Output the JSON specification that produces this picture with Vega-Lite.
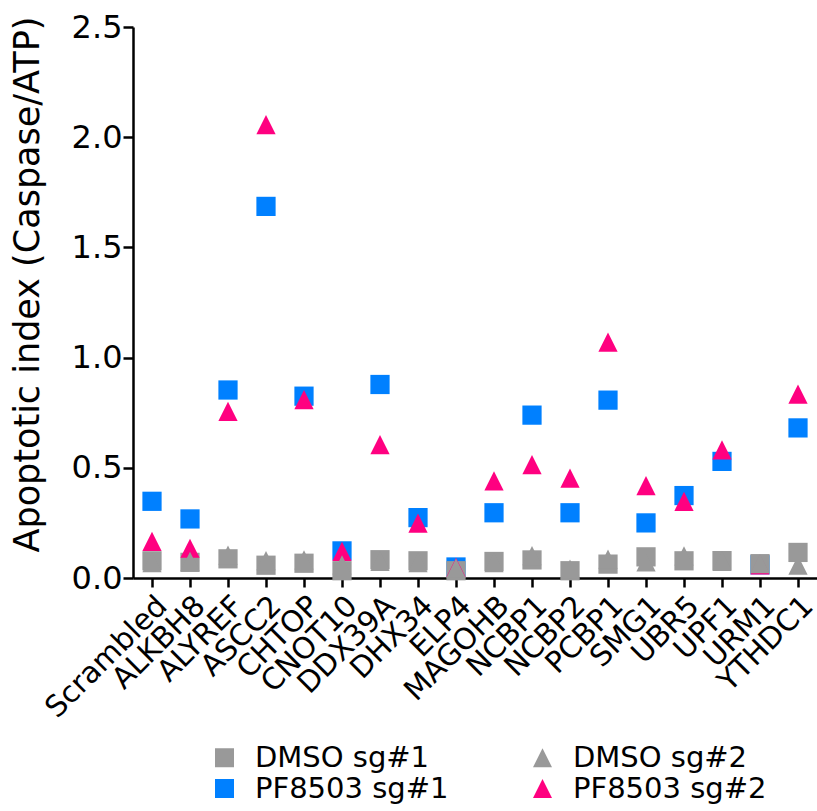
{
  "$schema": "https://vega.github.io/schema/vega-lite/v6.json",
  "width": 684,
  "height": 551,
  "autosize": {"type": "none"},
  "padding": {"left": 133, "top": 27, "right": 0, "bottom": 233},
  "background": "white",
  "config": {
    "view": {"stroke": null},
    "font": "DejaVu Sans"
  },
  "datasets": {
    "pts": [
      {"gene": "Scrambled", "group": "PF8503 sg#1", "value": 0.348},
      {"gene": "ALKBH8", "group": "PF8503 sg#1", "value": 0.268},
      {"gene": "ALYREF", "group": "PF8503 sg#1", "value": 0.853},
      {"gene": "ASCC2", "group": "PF8503 sg#1", "value": 1.686},
      {"gene": "CHTOP", "group": "PF8503 sg#1", "value": 0.825},
      {"gene": "CNOT10", "group": "PF8503 sg#1", "value": 0.123},
      {"gene": "DDX39A", "group": "PF8503 sg#1", "value": 0.878},
      {"gene": "DHX34", "group": "PF8503 sg#1", "value": 0.274},
      {"gene": "ELP4", "group": "PF8503 sg#1", "value": 0.05},
      {"gene": "MAGOHB", "group": "PF8503 sg#1", "value": 0.296},
      {"gene": "NCBP1", "group": "PF8503 sg#1", "value": 0.739},
      {"gene": "NCBP2", "group": "PF8503 sg#1", "value": 0.296},
      {"gene": "PCBP1", "group": "PF8503 sg#1", "value": 0.807},
      {"gene": "SMG1", "group": "PF8503 sg#1", "value": 0.25},
      {"gene": "UBR5", "group": "PF8503 sg#1", "value": 0.374},
      {"gene": "UPF1", "group": "PF8503 sg#1", "value": 0.529},
      {"gene": "URM1", "group": "PF8503 sg#1", "value": 0.06},
      {"gene": "YTHDC1", "group": "PF8503 sg#1", "value": 0.681},

      {"gene": "Scrambled", "group": "DMSO sg#1", "value": 0.078},
      {"gene": "ALKBH8", "group": "DMSO sg#1", "value": 0.071},
      {"gene": "ALYREF", "group": "DMSO sg#1", "value": 0.087},
      {"gene": "ASCC2", "group": "DMSO sg#1", "value": 0.058},
      {"gene": "CHTOP", "group": "DMSO sg#1", "value": 0.067},
      {"gene": "CNOT10", "group": "DMSO sg#1", "value": 0.033},
      {"gene": "DDX39A", "group": "DMSO sg#1", "value": 0.083},
      {"gene": "DHX34", "group": "DMSO sg#1", "value": 0.078},
      {"gene": "ELP4", "group": "DMSO sg#1", "value": 0.033},
      {"gene": "MAGOHB", "group": "DMSO sg#1", "value": 0.075},
      {"gene": "NCBP1", "group": "DMSO sg#1", "value": 0.082},
      {"gene": "NCBP2", "group": "DMSO sg#1", "value": 0.033},
      {"gene": "PCBP1", "group": "DMSO sg#1", "value": 0.063},
      {"gene": "SMG1", "group": "DMSO sg#1", "value": 0.096},
      {"gene": "UBR5", "group": "DMSO sg#1", "value": 0.078},
      {"gene": "UPF1", "group": "DMSO sg#1", "value": 0.079},
      {"gene": "URM1", "group": "DMSO sg#1", "value": 0.065},
      {"gene": "YTHDC1", "group": "DMSO sg#1", "value": 0.116},

      {"gene": "Scrambled", "group": "PF8503 sg#2", "value": 0.166},
      {"gene": "ALKBH8", "group": "PF8503 sg#2", "value": 0.135},
      {"gene": "ALYREF", "group": "PF8503 sg#2", "value": 0.756},
      {"gene": "ASCC2", "group": "PF8503 sg#2", "value": 2.057},
      {"gene": "CHTOP", "group": "PF8503 sg#2", "value": 0.809},
      {"gene": "CNOT10", "group": "PF8503 sg#2", "value": 0.121},
      {"gene": "DDX39A", "group": "PF8503 sg#2", "value": 0.605},
      {"gene": "DHX34", "group": "PF8503 sg#2", "value": 0.249},
      {"gene": "ELP4", "group": "PF8503 sg#2", "value": 0.048},
      {"gene": "MAGOHB", "group": "PF8503 sg#2", "value": 0.441},
      {"gene": "NCBP1", "group": "PF8503 sg#2", "value": 0.514},
      {"gene": "NCBP2", "group": "PF8503 sg#2", "value": 0.453},
      {"gene": "PCBP1", "group": "PF8503 sg#2", "value": 1.07},
      {"gene": "SMG1", "group": "PF8503 sg#2", "value": 0.419},
      {"gene": "UBR5", "group": "PF8503 sg#2", "value": 0.348},
      {"gene": "UPF1", "group": "PF8503 sg#2", "value": 0.581},
      {"gene": "URM1", "group": "PF8503 sg#2", "value": 0.06},
      {"gene": "YTHDC1", "group": "PF8503 sg#2", "value": 0.834},

      {"gene": "Scrambled", "group": "DMSO sg#2", "value": 0.07},
      {"gene": "ALKBH8", "group": "DMSO sg#2", "value": 0.075},
      {"gene": "ALYREF", "group": "DMSO sg#2", "value": 0.104},
      {"gene": "ASCC2", "group": "DMSO sg#2", "value": 0.079},
      {"gene": "CHTOP", "group": "DMSO sg#2", "value": 0.082},
      {"gene": "CNOT10", "group": "DMSO sg#2", "value": 0.06},
      {"gene": "DDX39A", "group": "DMSO sg#2", "value": 0.075},
      {"gene": "DHX34", "group": "DMSO sg#2", "value": 0.07},
      {"gene": "ELP4", "group": "DMSO sg#2", "value": 0.045},
      {"gene": "MAGOHB", "group": "DMSO sg#2", "value": 0.07},
      {"gene": "NCBP1", "group": "DMSO sg#2", "value": 0.102},
      {"gene": "NCBP2", "group": "DMSO sg#2", "value": 0.04},
      {"gene": "PCBP1", "group": "DMSO sg#2", "value": 0.086},
      {"gene": "SMG1", "group": "DMSO sg#2", "value": 0.073},
      {"gene": "UBR5", "group": "DMSO sg#2", "value": 0.1},
      {"gene": "UPF1", "group": "DMSO sg#2", "value": 0.075},
      {"gene": "URM1", "group": "DMSO sg#2", "value": 0.065},
      {"gene": "YTHDC1", "group": "DMSO sg#2", "value": 0.058}
    ]
  },
  "layer": [
    {
      "data": {"name": "pts"},
      "mark": {"type": "point", "filled": true, "opacity": 1, "size": 370, "strokeWidth": 0},
      "encoding": {
        "x": {
          "field": "gene",
          "type": "nominal",
          "sort": null,
          "scale": {"type": "point", "padding": 0.5},
          "axis": {
            "title": null,
            "labelAngle": -45,
            "labelFont": "DejaVu Sans",
            "labelFontSize": 29.5,
            "labelColor": "black",
            "labelPadding": 4,
            "labelLimit": 300,
            "labelOverlap": false,
            "domainColor": "black",
            "domainWidth": 2.5,
            "tickColor": "black",
            "tickWidth": 2.5,
            "tickSize": 9,
            "grid": false
          }
        },
        "y": {
          "field": "value",
          "type": "quantitative",
          "scale": {"domain": [0, 2.5], "nice": false, "zero": true},
          "axis": {
            "title": "Apoptotic index (Caspase/ATP)",
            "titleFont": "DejaVu Sans",
            "titleFontSize": 35,
            "titleFontWeight": "normal",
            "titleColor": "black",
            "titleX": -88,
            "titleY": 257,
            "values": [0, 0.5, 1, 1.5, 2, 2.5],
            "format": ".1f",
            "labelFont": "DejaVu Sans",
            "labelFontSize": 32,
            "labelColor": "black",
            "labelPadding": 1,
            "domainColor": "black",
            "domainWidth": 2.5,
            "tickColor": "black",
            "tickWidth": 2.5,
            "tickSize": 10,
            "grid": false
          }
        },
        "color": {
          "field": "group",
          "type": "nominal",
          "scale": {
            "domain": ["DMSO sg#1", "DMSO sg#2", "PF8503 sg#1", "PF8503 sg#2"],
            "range": ["#999999", "#999999", "#0080FF", "#FF0080"]
          },
          "legend": {
            "title": null,
            "orient": "none",
            "legendX": 77,
            "legendY": 716,
            "columns": 2,
            "direction": "horizontal",
            "padding": 0,
            "columnPadding": 79,
            "rowPadding": 1,
            "labelFont": "DejaVu Sans",
            "labelFontSize": 29,
            "labelLimit": 400,
            "labelColor": "black",
            "labelOffset": 16,
            "symbolSize": 361,
            "symbolStrokeWidth": 0,
            "symbolOpacity": 1
          }
        },
        "shape": {
          "field": "group",
          "type": "nominal",
          "scale": {
            "domain": ["DMSO sg#1", "DMSO sg#2", "PF8503 sg#1", "PF8503 sg#2"],
            "range": ["square", "M0,-1L1,1L-1,1Z", "square", "M0,-1L1,1L-1,1Z"]
          }
        }
      }
    },
    {
      "mark": {"type": "rule", "color": "black", "strokeWidth": 2, "strokeDash": [2, 4]},
      "encoding": {"y": {"datum": 0.25}}
    }
  ]
}
